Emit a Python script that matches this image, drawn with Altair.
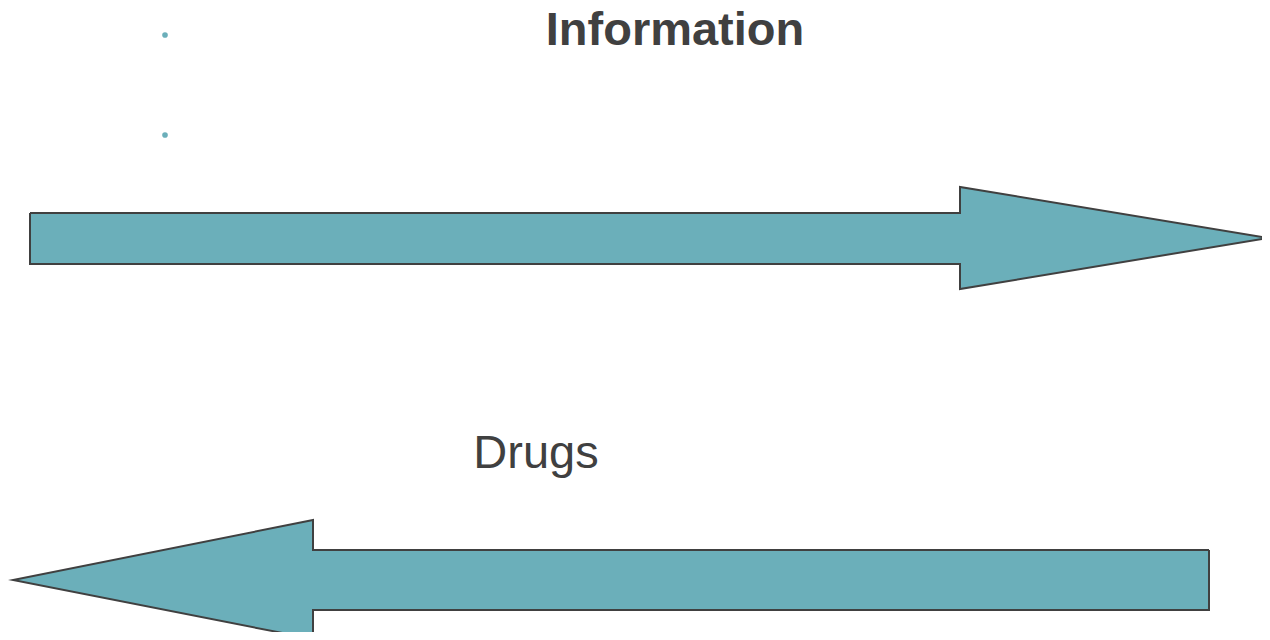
import altair as alt
import pandas as pd

# Arrow outlines (picture coordinates, y downward)
top_arrow_x = [30, 960, 960, 1268, 960, 960, 30, 30]
top_arrow_y = [213, 213, 187, 238, 289, 264, 264, 213]
bottom_arrow_x = [1209, 313, 313, 13, 313, 313, 1209, 1209]
bottom_arrow_y = [550, 550, 520, 580, 639, 610, 610, 550]

bullet_x = [165, 165]
bullet_y = [35, 135]

labels = ["Information", "Drugs"]
label_x = [675, 536]
label_y = [45, 468]

TEAL = "#6BAFBA"
DARK = "#404040"

xs = alt.Scale(domain=[8, 1262], nice=False, zero=False)
ys = alt.Scale(domain=[8, 632], nice=False, zero=False, reverse=True)

def arrow(xv, yv):
    df = pd.DataFrame({"x": xv, "y": yv, "i": list(range(len(xv)))})
    return alt.Chart(df).mark_line(
        fill=TEAL, stroke=DARK, strokeWidth=2, strokeJoin="miter", strokeMiterLimit=10
    ).encode(
        x=alt.X("x:Q", scale=xs, axis=None),
        y=alt.Y("y:Q", scale=ys, axis=None),
        order=alt.Order("i:Q"),
    )

bul = alt.Chart(pd.DataFrame({"x": bullet_x, "y": bullet_y})).mark_circle(
    size=32, color=TEAL, opacity=1
).encode(x=alt.X("x:Q", scale=xs, axis=None), y=alt.Y("y:Q", scale=ys, axis=None))

t1 = alt.Chart(pd.DataFrame({"x": [label_x[0]], "y": [label_y[0]], "t": [labels[0]]})).mark_text(
    font="Liberation Sans", fontSize=47, fontWeight="bold", color=DARK,
    align="center", baseline="alphabetic"
).encode(x=alt.X("x:Q", scale=xs, axis=None), y=alt.Y("y:Q", scale=ys, axis=None), text="t:N")

t2 = alt.Chart(pd.DataFrame({"x": [label_x[1]], "y": [label_y[1]], "t": [labels[1]]})).mark_text(
    font="Liberation Sans", fontSize=47, fontWeight="normal", color=DARK,
    align="center", baseline="alphabetic"
).encode(x=alt.X("x:Q", scale=xs, axis=None), y=alt.Y("y:Q", scale=ys, axis=None), text="t:N")

chart = alt.layer(arrow(top_arrow_x, top_arrow_y), arrow(bottom_arrow_x, bottom_arrow_y), bul, t1, t2).properties(
    width=1254, height=624, padding=0, background="white",
    autosize=alt.AutoSizeParams(type="none"),
).configure_view(stroke=None)

chart.save("out.html", embed_options={"renderer": "svg", "actions": False})
